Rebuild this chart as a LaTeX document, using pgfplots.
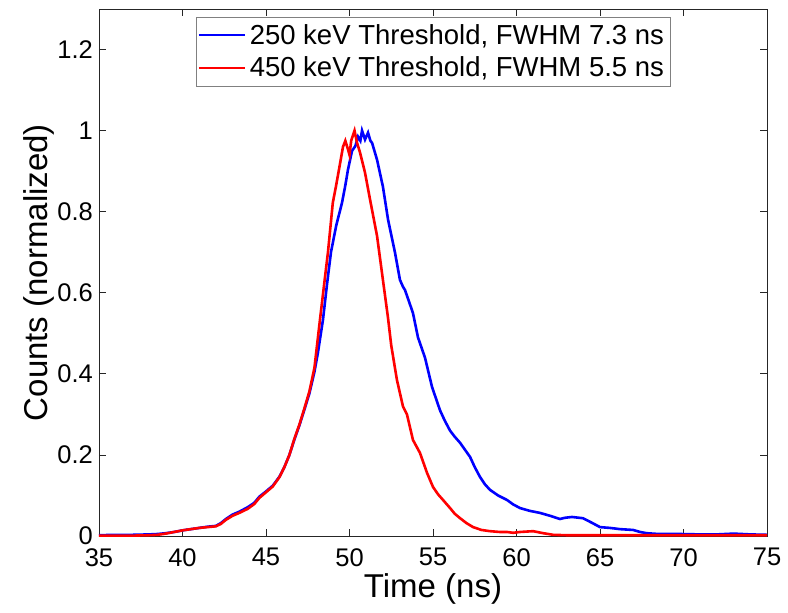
\documentclass[border=0pt]{standalone}
\usepackage{pgfplots}
\pgfplotsset{compat=1.18}
\usepackage{fontspec}
\setmainfont{Liberation Sans}
\begin{document}
\begin{tikzpicture}
\begin{axis}[
  scale only axis,
  width=668pt, height=527pt,
  xmin=35, xmax=75, ymin=0, ymax=1.3,
  xtick={35,40,...,75},
  ytick={0,0.2,0.4,0.6,0.8,1,1.2},
  /pgf/number format/assume math mode=true,
  tick align=inside,
  major tick length=7pt,
  axis line style={black!85, line width=0.8pt},
  every tick/.style={black!85, line width=0.8pt},
  tick label style={font=\fontsize{25.5}{30}\selectfont},
  yticklabel style={anchor=east, inner sep=0pt, xshift=-6pt},
  xticklabel style={anchor=north, inner sep=0pt, yshift=-12pt},
  label style={font=\fontsize{33}{38}\selectfont},
  xlabel={Time (ns)},
  ylabel={Counts (normalized)},
  xlabel style={at={(axis description cs:0.5,-0.1170)}, anchor=base, inner sep=0pt},
  ylabel style={at={(axis description cs:-0.0778,0.5)}, anchor=base, inner sep=0pt},
  legend cell align=left,
  legend style={at={(axis description cs:0.5,0.985)}, anchor=north,
    draw=gray, inner xsep=2pt, inner ysep=2pt,
    font=\fontsize{27.5}{32}\selectfont,
    nodes={inner xsep=4pt, inner ysep=5.5pt}},
  legend image code/.code={\draw[#1, line width=1.7pt] (0pt,0pt) -- (46pt,0pt);},
]
\addplot[color=blue, line width=2.6pt] coordinates {
(35.0,0.002) (36.0,0.003) (37.0,0.003) (38.0,0.004) (38.5,0.005) (39.0,0.007)
(39.5,0.010) (40.0,0.014) (40.5,0.017) (41.0,0.020) (41.5,0.023) (42.0,0.025)
(42.3,0.032) (42.6,0.042) (43.0,0.053) (43.4,0.060) (43.9,0.071) (44.3,0.082)
(44.6,0.097) (45.0,0.110) (45.4,0.124) (45.8,0.146) (46.1,0.170) (46.4,0.200)
(46.7,0.238) (47.0,0.273) (47.3,0.312) (47.6,0.352) (47.9,0.405) (48.1,0.450)
(48.41,0.533) (48.65,0.62) (48.89,0.70) (49.2,0.765) (49.55,0.822) (49.75,0.865)
(49.91,0.904) (50.15,0.950) (50.35,0.962) (50.51,0.985) (50.65,0.975) (50.75,1.0)
(50.93,0.978) (51.11,0.995) (51.25,0.975) (51.35,0.97) (51.65,0.928) (52.0,0.862)
(52.31,0.78) (52.72,0.70) (53.02,0.632) (53.2,0.615) (53.32,0.607) (53.55,0.58)
(53.80,0.55) (54.10,0.49) (54.52,0.44) (54.94,0.368) (55.42,0.31) (55.7,0.285)
(56.02,0.26) (56.3,0.245) (56.62,0.23) (57.22,0.195) (57.5,0.170) (57.81,0.146)
(58.1,0.128) (58.41,0.114) (58.9,0.100) (59.43,0.089) (59.8,0.078) (60.21,0.069)
(60.8,0.062) (61.41,0.057) (62.0,0.050) (62.6,0.042) (62.9,0.045) (63.32,0.047)
(63.98,0.044) (64.5,0.033) (65.0,0.022) (65.6,0.020) (66.2,0.017) (66.98,0.015)
(67.4,0.010) (67.8,0.007) (68.5,0.005) (69.8,0.005) (71.0,0.004) (72.0,0.004)
(73.0,0.006) (74.0,0.004) (75.0,0.003)
};
\addlegendentry{250 keV Threshold, FWHM 7.3 ns}
\addplot[color=red, line width=2.6pt] coordinates {
(35.0,0.001) (36.0,0.001) (37.0,0.001) (38.0,0.002) (38.5,0.003) (39.0,0.006)
(39.5,0.010) (40.0,0.014) (40.5,0.017) (41.0,0.020) (41.5,0.022) (42.0,0.024)
(42.3,0.030) (42.6,0.040) (43.0,0.050) (43.4,0.057) (43.9,0.067) (44.3,0.079)
(44.6,0.094) (45.0,0.108) (45.4,0.122) (45.8,0.145) (46.1,0.170) (46.4,0.200)
(46.7,0.240) (47.0,0.275) (47.3,0.315) (47.6,0.357) (47.9,0.415) (48.23,0.533)
(48.45,0.61) (48.71,0.70) (49.0,0.822) (49.2,0.865) (49.37,0.904) (49.61,0.960)
(49.75,0.975) (49.9,0.955) (50.0,0.940) (50.1,0.975) (50.3,1.0) (50.45,0.970)
(50.63,0.946) (50.93,0.896) (51.23,0.83) (51.65,0.74) (52.0,0.632) (52.3,0.54)
(52.5,0.47) (52.84,0.385) (53.2,0.32) (53.44,0.30) (53.8,0.237) (54.22,0.205)
(54.64,0.156) (55.0,0.121) (55.3,0.103) (55.6,0.089) (56.02,0.069) (56.3,0.055)
(56.62,0.044) (57.0,0.032) (57.4,0.022) (57.9,0.015) (58.41,0.012) (59.0,0.010)
(59.43,0.010) (59.8,0.008) (60.21,0.010) (60.6,0.011) (61.0,0.012) (61.6,0.007)
(62.2,0.003) (63.0,0.002) (65.0,0.002) (68.0,0.002) (71.0,0.002) (75.0,0.002)
};
\addlegendentry{450 keV Threshold, FWHM 5.5 ns}
\coordinate (bbl) at (axis description cs:-0.1482,-0.1442);
\coordinate (btr) at (axis description cs:1.0314,1.0171);
\end{axis}
\pgfresetboundingbox
\path (bbl) rectangle (btr);
\end{tikzpicture}
\end{document}
